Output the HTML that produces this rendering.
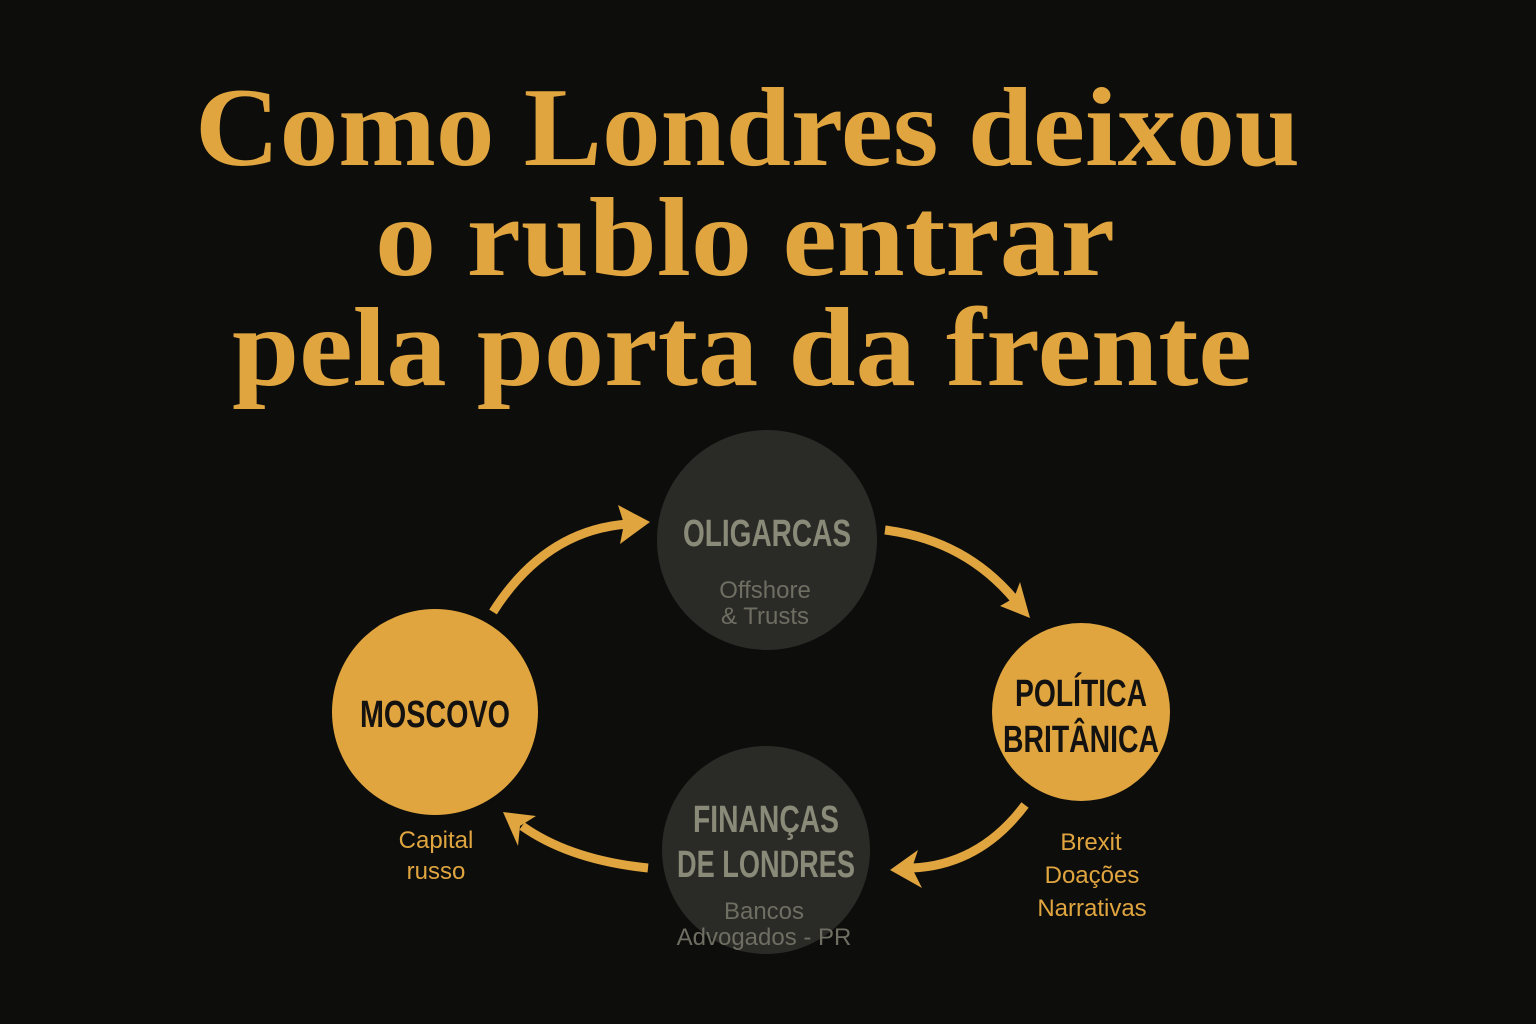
<!DOCTYPE html>
<html><head><meta charset="utf-8"><style>
html,body{margin:0;padding:0;background:#0d0d0c;}
svg{display:block}
</style></head><body>
<svg width="1536" height="1024" viewBox="0 0 1536 1024" xmlns="http://www.w3.org/2000/svg">
<rect width="1536" height="1024" fill="#0d0d0c"/>
<g font-family="Liberation Serif, serif" font-weight="bold" fill="#e0a53f" font-size="112">
<text x="195" y="165" textLength="1105" lengthAdjust="spacingAndGlyphs">Como Londres deixou</text>
<text x="375" y="275" textLength="740" lengthAdjust="spacingAndGlyphs">o rublo entrar</text>
<text x="232" y="385" textLength="1020" lengthAdjust="spacingAndGlyphs">pela porta da frente</text>
</g>
<defs>
<marker id="ah" markerWidth="10" markerHeight="10" refX="5" refY="5" orient="auto" markerUnits="userSpaceOnUse" viewBox="0 0 10 10">
</marker>
</defs>
<g fill="none" stroke="#e0a53f" stroke-width="9" stroke-linecap="butt">
<path d="M493,612 Q545,530 628,524"/>
<path d="M885,530 Q965,540 1015,600"/>
<path d="M1025,805 Q980,865 912,868"/>
<path d="M648,868 Q570,860 522,826"/>
</g>
<g fill="#e0a53f">
<polygon points="650,522 618,505 624,524 620,544"/>
<polygon points="1030,618 1000,606 1014,598 1020,582"/>
<polygon points="890,870 918,850 912,868 922,888"/>
<polygon points="503,812 536,816 520,826 518,846"/>
</g>
<circle cx="767" cy="540" r="110" fill="#2a2a27"/>
<circle cx="766" cy="850" r="104" fill="#2a2a27"/>
<circle cx="435" cy="712" r="103" fill="#e0a53f"/>
<circle cx="1081" cy="712" r="89" fill="#e0a53f"/>
<g font-family="Liberation Sans Narrow, Liberation Sans, sans-serif" font-weight="bold" text-anchor="middle">
<text x="767" y="546" font-size="38" fill="#8a8a78" textLength="168" lengthAdjust="spacingAndGlyphs">OLIGARCAS</text>
<text x="766" y="832" font-size="38" fill="#8a8a78" textLength="146" lengthAdjust="spacingAndGlyphs">FINANÇAS</text>
<text x="766" y="877" font-size="38" fill="#8a8a78" textLength="178" lengthAdjust="spacingAndGlyphs">DE LONDRES</text>
<text x="435" y="727" font-size="38" fill="#141210" textLength="150" lengthAdjust="spacingAndGlyphs">MOSCOVO</text>
<text x="1081" y="706" font-size="38" fill="#141210" textLength="132" lengthAdjust="spacingAndGlyphs">POLÍTICA</text>
<text x="1081" y="752" font-size="38" fill="#141210" textLength="156" lengthAdjust="spacingAndGlyphs">BRITÂNICA</text>
</g>
<g font-family="Liberation Sans, sans-serif" font-size="24" text-anchor="middle">
<text x="765" y="598" fill="#6e6e62">Offshore</text>
<text x="765" y="624" fill="#6e6e62">&amp; Trusts</text>
<text x="764" y="919" fill="#6e6e62">Bancos</text>
<text x="764" y="945" fill="#6e6e62">Advogados - PR</text>
<text x="436" y="848" fill="#e0a53f">Capital</text>
<text x="436" y="879" fill="#e0a53f">russo</text>
<text x="1091" y="850" fill="#e0a53f">Brexit</text>
<text x="1092" y="883" fill="#e0a53f">Doações</text>
<text x="1092" y="916" fill="#e0a53f">Narrativas</text>
</g>
</svg>
</body></html>
